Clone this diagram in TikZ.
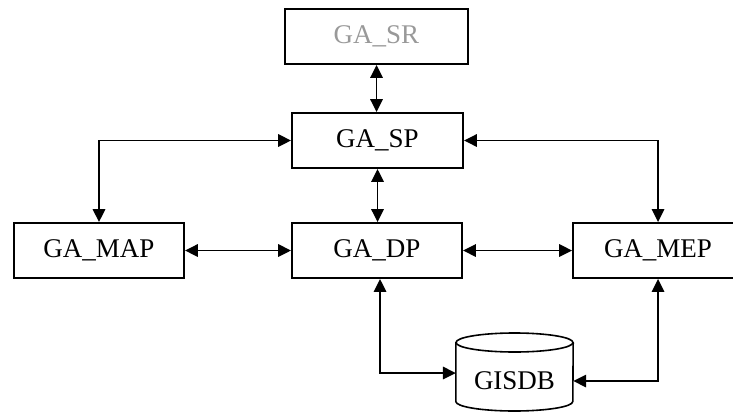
\documentclass[tikz,border=0pt]{standalone}
\usepackage{fontspec}
\setmainfont{Liberation Serif}
\usetikzlibrary{arrows.meta}
\tikzset{
    block/.style={draw, line width=1.9pt, minimum width=170pt, minimum height=55pt, inner sep=0pt, font=\fontsize{27}{30}\selectfont},
    link/.style={>={Triangle[length=13pt,width=12.5pt]}, <->, line width=1.7pt},
    dbline/.style={line width=1.6pt},
}
\begin{document}
\begin{tikzpicture}[x=1pt,y=-1pt]
\useasboundingbox (0,0) rectangle (733,412);
% blocks
\node[block, minimum width=183pt, text=black!40] (sr) at (376.5,36.5) {GA\_SR};
\node[block, minimum width=171pt] (sp) at (377.5,140.5) {GA\_SP};
\node[block] (map) at (99,250.5) {GA\_MAP};
\node[block] (dp) at (377,250.5) {GA\_DP};
\node[block] (mep) at (658,250.5) {GA\_MEP};
% data store
\node[font=\fontsize{27}{30}\selectfont, minimum width=117pt, inner sep=0pt] (gisdb) at (514.5,381) {GISDB};
\draw[dbline] ([yshift=38.5pt]gisdb.center) ellipse [x radius=58.5pt, y radius=9.5pt];
\draw[dbline] ([yshift=38.5pt]gisdb.center -| gisdb.west) -- ([yshift=-20.5pt]gisdb.center -| gisdb.west)
    arc[start angle=180, end angle=360, x radius=58.5pt, y radius=9.5pt] -- ([yshift=38.5pt]gisdb.center -| gisdb.east);
% links
\draw[link] (sr.south) -- (sr.south |- sp.north);
\draw[link] (sp.west) -| (map.north);
\draw[link] (sp.east) -| (mep.north);
\draw[link] (sp.south) -- (sp.south |- dp.north);
\draw[link] (map.east) -- (dp.west);
\draw[link] (dp.east) -- (mep.west);
\draw[link] ([xshift=3pt]dp.south) |- ([yshift=8pt]gisdb.west);
\draw[link] (mep.south) |- (gisdb.east);
\end{tikzpicture}
\end{document}
